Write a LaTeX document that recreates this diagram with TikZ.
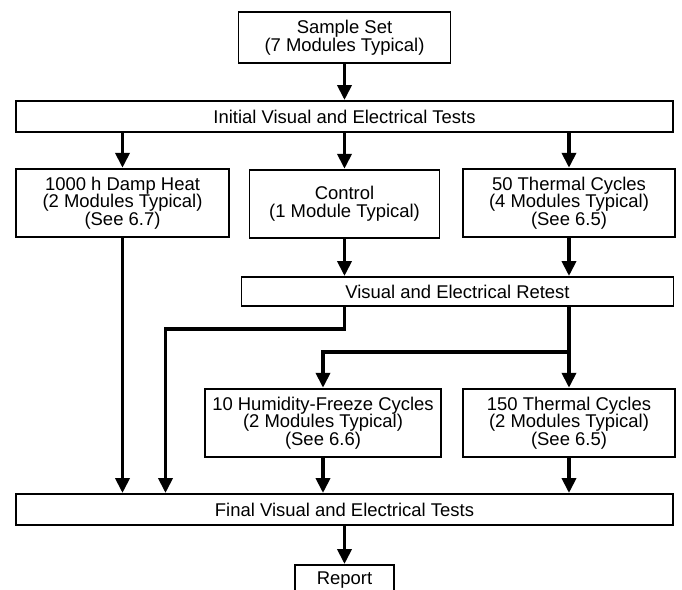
\documentclass[tikz,border=0pt]{standalone}
\usepackage{fontspec}
\setmainfont{Liberation Sans}
\usetikzlibrary{arrows.meta,positioning,calc}

\begin{document}
\begin{tikzpicture}[node distance=2cm, on grid, >={Triangle[length=0.3cm,width=0.28cm]}]
       \tikzstyle{block}=[draw, line width=1.1pt, align=center, inner sep=0pt, font=\fontsize{10.5}{10.1}\selectfont]
       \tikzstyle{wide}=[block, minimum width=13.15cm, minimum height=0.62cm]
       \tikzstyle{test}=[block, minimum width=4.25cm, minimum height=1.37cm]
       \tikzstyle{flow}=[->, line width=2.2pt]

       \useasboundingbox (-6.89,2.33) rectangle (6.75,-9.47);

       \node[wide] (initial) {Initial Visual and Electrical Tests};
       \node[block, minimum width=4.24cm, minimum height=1.02cm] (sample) [above=1.58cm of initial] {Sample Set\\(7 Modules Typical)};
       \node[test] (damp) [below left=1.73cm and 4.44cm of initial] {1000 h Damp Heat\\(2 Modules Typical)\\(See 6.7)};
       \node[test, minimum width=3.8cm] (control) [below=1.75cm of initial] {Control\\(1 Module Typical)};
       \node[test] (therm50) [below right=1.73cm and 4.49cm of initial] {50 Thermal Cycles\\(4 Modules Typical)\\(See 6.5)};
       \node[block, minimum width=8.64cm, minimum height=0.58cm] (retest) [below right=1.75cm and 2.26cm of control] {Visual and Electrical Retest};
       \node[test] (therm150) [below=4.4cm of therm50] {150 Thermal Cycles\\(2 Modules Typical)\\(See 6.5)};
       \node[test, minimum width=4.72cm] (humid) [left=4.92cm of therm150] {10 Humidity-Freeze Cycles\\(2 Modules Typical)\\(See 6.6)};
       \node[wide] (final) [below=7.86cm of initial] {Final Visual and Electrical Tests};
       \node[block, minimum width=1.98cm, minimum height=0.62cm] (report) [below=1.42cm of final] {Report};

       \coordinate (detour) at ($(retest.south -| control.south)+(-3.58,-0.44)$);
       \coordinate (split) at ($(retest.south -| therm150.north)+(0,-0.9)$);

       \draw[flow] (sample) -- (initial);
       \foreach \n in {damp, control, therm50}
         \draw[flow] (initial.south -| \n.north) -- (\n);
       \draw[flow] (control) -- (control.south |- retest.north);
       \draw[flow] (therm50) -- (therm50.south |- retest.north);
       \draw[flow] (damp) -- (damp.south |- final.north);
       \draw[flow] (retest.south -| control.south) |- (detour) -- (detour |- final.north);
       \draw[flow] (retest.south -| therm150.north) -- (therm150);
       \draw[flow] (split) -| (humid);
       \draw[flow] (humid) -- (humid.south |- final.north);
       \draw[flow] (therm150) -- (therm150.south |- final.north);
       \draw[flow] (final) -- (report);
     \end{tikzpicture}
\end{document}
